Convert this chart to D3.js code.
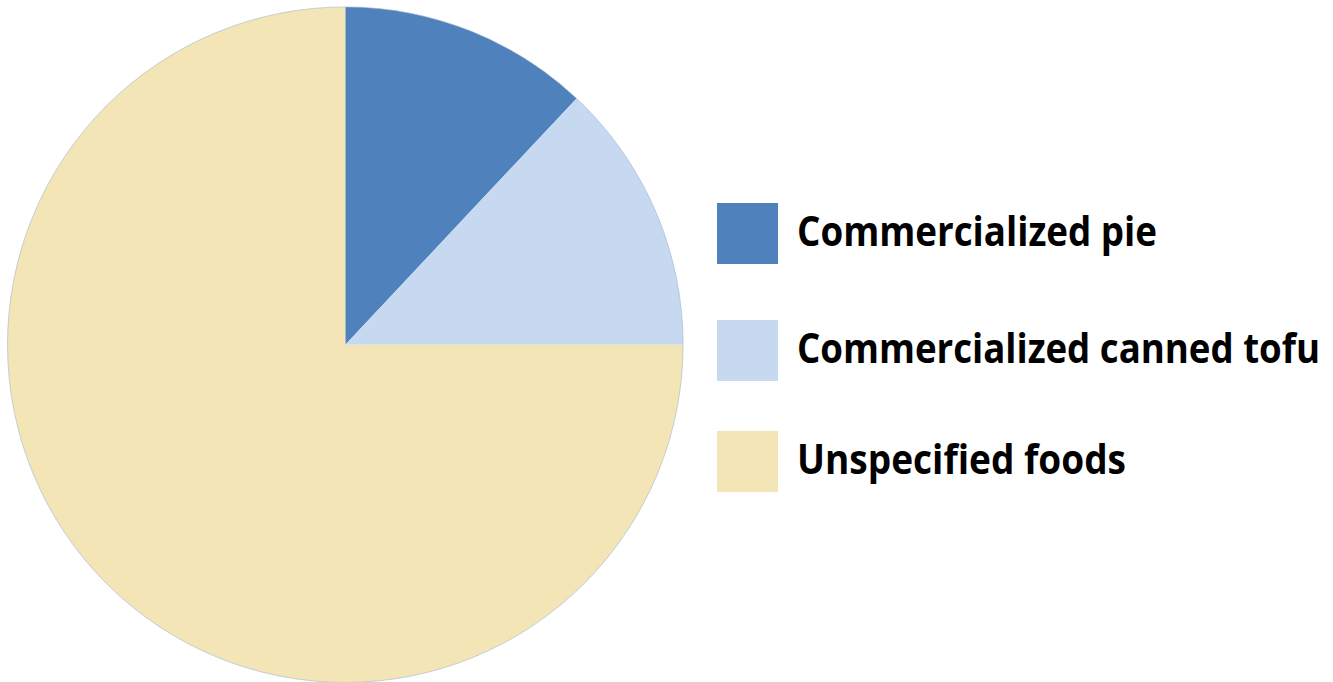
<!DOCTYPE html>
<html>
<head>
<meta charset="utf-8">
<script src="https://cdn.jsdelivr.net/npm/d3@7"></script>
<style>
  body { margin: 0; background: #fff; }
  svg { display: block; }
</style>
</head>
<body>
<div id="chart"></div>
<script>
// Data
var categories = ["Commercialized pie", "Commercialized canned tofu", "Unspecified foods"];
var values = [12, 13, 75];
var colors = ["#4f81bd", "#c6d9f1", "#f3e5b5"];
// measured label widths (Calibri-like narrow bold)
var labelWidths = [360, 523, 329];

var width = 1333, height = 682;

var svg = d3.select("#chart").append("svg")
    .attr("width", width)
    .attr("height", height);

// Pie
var cx = 345.3, cy = 344.7, radius = 337.8;

var pie = d3.pie().sort(null).value(d => d);
var arc = d3.arc().innerRadius(0).outerRadius(radius);
var cScale = d3.scaleOrdinal().domain(categories).range(colors);

var pieG = svg.append("g")
    .attr("transform", "translate(" + [cx, cy] + ")");

pieG.selectAll("path")
    .data(pie(values))
    .enter()
    .append("path")
    .attr("d", arc)
    .style("fill", (d, i) => cScale(categories[i]))
    .style("stroke", "none");

// faint outer edge
pieG.append("circle")
    .attr("r", radius)
    .style("fill", "none")
    .style("stroke", "#9fb6cc")
    .style("stroke-width", 0.6);

// Legend
var rowTops = [203, 320, 431];
var boxSize = 61;

var legend = svg.selectAll(".legend")
    .data(categories)
    .enter()
    .append("g")
    .attr("class", "legend")
    .attr("transform", (d, i) => "translate(717," + rowTops[i] + ")");

legend.append("rect")
    .attr("width", boxSize)
    .attr("height", boxSize)
    .style("fill", d => cScale(d));

legend.append("text")
    .attr("x", 80)
    .attr("y", 42.5)
    .attr("textLength", (d, i) => labelWidths[i])
    .attr("lengthAdjust", "spacingAndGlyphs")
    .style("font-family", "'Open Sans', 'Noto Sans', sans-serif")
    .style("font-weight", "bold")
    .style("font-size", "40.5px")
    .style("fill", "#000")
    .text(d => d);
</script>
</body>
</html>
